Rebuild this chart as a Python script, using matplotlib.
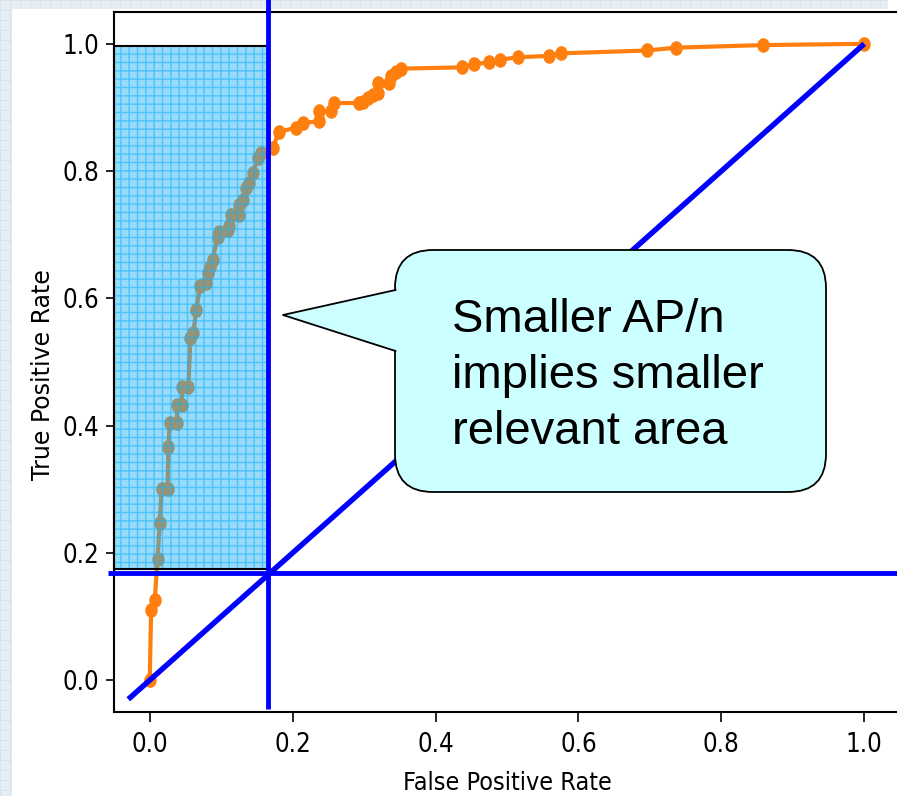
import matplotlib
matplotlib.use("Agg")
import matplotlib.pyplot as plt
from matplotlib.patches import Rectangle, FancyBboxPatch, Polygon
from matplotlib.lines import Line2D
from matplotlib.path import Path
from matplotlib.transforms import Affine2D

# ROC curve points
fpr = [0.0, 0.002, 0.007, 0.011, 0.014, 0.0165, 0.025, 0.026, 0.028, 0.038,
       0.038, 0.045, 0.045, 0.054, 0.057, 0.061, 0.065, 0.0707, 0.0787, 0.081,
       0.084, 0.088, 0.095, 0.097, 0.110, 0.111, 0.114, 0.125, 0.125, 0.130,
       0.135, 0.139, 0.144, 0.151, 0.156, 0.172, 0.181, 0.205, 0.214, 0.237,
       0.237, 0.254, 0.258, 0.293, 0.298, 0.305, 0.312, 0.319, 0.319, 0.335,
       0.338, 0.345, 0.352, 0.437, 0.4545, 0.4745, 0.4905, 0.516, 0.5585, 0.575,
       0.696, 0.737, 0.858, 1.0]
tpr = [0.0, 0.111, 0.126, 0.191, 0.247, 0.300, 0.300, 0.366, 0.404, 0.404,
       0.433, 0.433, 0.460, 0.460, 0.538, 0.546, 0.582, 0.619, 0.624, 0.640,
       0.650, 0.661, 0.697, 0.705, 0.708, 0.713, 0.731, 0.731, 0.747, 0.755,
       0.773, 0.781, 0.797, 0.820, 0.828, 0.836, 0.862, 0.868, 0.876, 0.878,
       0.894, 0.894, 0.907, 0.907, 0.909, 0.915, 0.920, 0.923, 0.939, 0.939,
       0.950, 0.955, 0.961, 0.963, 0.968, 0.971, 0.975, 0.979, 0.981, 0.985,
       0.9895, 0.994, 0.998, 1.0]

# operating point that bounds the shaded region
fpr_cut = 0.165
tpr_cut = 0.168
shade_bottom = 0.175
shade_top = 0.997

callout_text = "Smaller AP/n\nimplies smaller\nrelevant area"

W, H = 897, 796
fig = plt.figure(figsize=(W / 100, H / 100), dpi=100)
fig.patch.set_facecolor('#e6edf4')
# pixel coordinates measured from the top-left corner
px = Affine2D().scale(1 / W, -1 / H).translate(0, 1) + fig.transFigure

# slide background grid
for gx in range(0, W, 10):
    fig.add_artist(Line2D([gx, gx], [0, H], transform=px, color='#d6e0ea', lw=0.6, zorder=-3))
for gy in range(0, H, 10):
    fig.add_artist(Line2D([0, W], [gy, gy], transform=px, color='#d6e0ea', lw=0.6, zorder=-3))
fig.add_artist(Rectangle((12, 9), W - 12, H - 9, transform=px, facecolor='white',
                         edgecolor='none', zorder=-2))
fig.add_artist(Rectangle((888, 0), W - 888, 9, transform=px, facecolor='white',
                         edgecolor='none', zorder=-2))

ax = fig.add_axes([114 / W, 1 - 712 / H, (900 - 114) / W, (712 - 12) / H])
ax.set_xlim(-0.05, 1.05)
ax.set_ylim(-0.05, 1.05)

font = dict(family='DejaVu Sans', fontstretch='condensed', fontsize=18)

# tall ellipse marker (the original figure was stretched vertically)
ell = Path.unit_circle().transformed(Affine2D().scale(0.84, 1.0))
ax.plot(fpr, tpr, color='#ff7f0e', lw=3.0, marker=ell, markersize=9.5, zorder=2)

ax.set_xlabel('False Positive Rate', labelpad=9, **font)
ax.set_ylabel('True Positive Rate', family='DejaVu Sans', fontsize=17)
ax.yaxis.set_label_coords((55 - 114) / 786, (712 - 375) / 700)
ax.set_xticks([0.0, 0.2, 0.4, 0.6, 0.8, 1.0])
ax.set_yticks([0.0, 0.2, 0.4, 0.6, 0.8, 1.0])
for lab in ax.get_xticklabels() + ax.get_yticklabels():
    lab.set_fontfamily('DejaVu Sans')
    lab.set_fontstretch('condensed')
    lab.set_fontsize(18.5)
ax.tick_params(axis='x', length=7.5, width=1.2, pad=7)
ax.tick_params(axis='y', length=5.5, width=1.2, pad=5)
for s in ax.spines.values():
    s.set_linewidth(1.5)

# shaded region left of the cut
ax.add_patch(Rectangle((-0.05, shade_bottom), fpr_cut + 0.05, shade_top - shade_bottom,
                       facecolor=(0.10, 0.68, 0.95, 0.45), edgecolor=(0.05, 0.70, 1.0, 0.55),
                       lw=0, hatch='++', zorder=3, clip_on=False))
ax.add_patch(Rectangle((-0.05, shade_bottom), fpr_cut + 0.05, shade_top - shade_bottom,
                       fill=False, edgecolor='black', lw=1.5, zorder=3.5, clip_on=False))

# cut lines and the chance diagonal
ax.plot([fpr_cut, fpr_cut], [-0.046, 1.07], color='blue', lw=3.5, zorder=4,
        clip_on=False, solid_capstyle='butt')
ax.plot([-0.058, 1.1], [tpr_cut, tpr_cut], color='blue', lw=3.5, zorder=4,
        clip_on=False, solid_capstyle='butt')
ax.plot([-0.03, 1.0], [-0.03, 1.0], color='blue', lw=3.9, zorder=4,
        clip_on=False, solid_capstyle='butt')

# callout bubble
ax.add_patch(FancyBboxPatch((395, 250), 431, 242, boxstyle='round,pad=0,rounding_size=38',
                            transform=px, facecolor='#ccffff', edgecolor='black', lw=1.3,
                            zorder=6, clip_on=False))
ax.add_patch(Polygon([(398, 290), (283, 315), (398, 351)], closed=True, transform=px,
                     facecolor='#ccffff', edgecolor='none', zorder=7, clip_on=False))
ax.add_line(Line2D([395.5, 283, 395.5], [290, 315, 351], transform=px, color='black',
                   lw=1.3, zorder=7, clip_on=False))
ax.text(452, 298, callout_text, transform=px, ha='left', va='top', fontsize=34,
        family='Liberation Sans', linespacing=1.36, zorder=8, clip_on=False)

fig.savefig('out.png', dpi=100)
